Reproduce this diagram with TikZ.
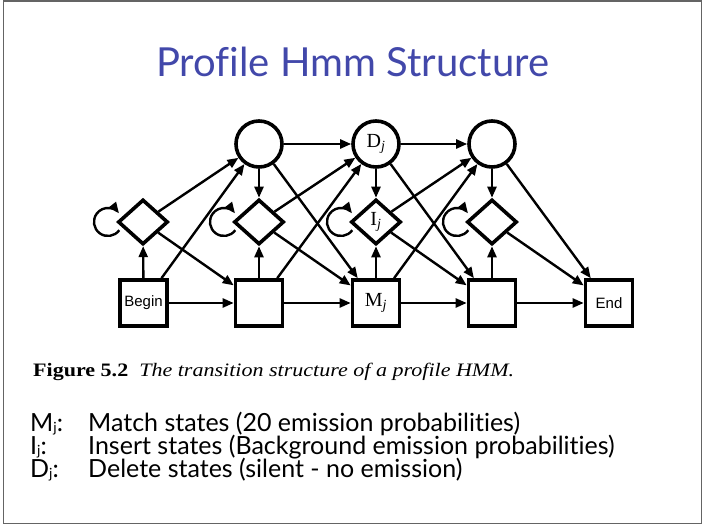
\documentclass[tikz,border=0pt]{standalone}
\usepackage{fontspec}
\setmainfont{Liberation Serif}
\newfontfamily\slidefont[Ligatures=NoCommon]{Lato}
\newfontfamily\labelsans{Liberation Sans}
\usetikzlibrary{shapes.geometric,arrows.meta}
\definecolor{titleblue}{RGB}{66,72,170}
\definecolor{framegray}{RGB}{100,100,100}
% small lowered index letter used in the legend keys
\newcommand\keyidx[1]{\raisebox{-1pt}{\fontsize{14}{14}\selectfont #1}}

\begin{document}
\begin{tikzpicture}[x=1pt,y=-1pt,
  state/.style={draw, line width=3.6pt, inner sep=0pt},
  matchbox/.style={state, rectangle, minimum width=47pt, minimum height=46pt},
  insertdia/.style={state, diamond, minimum width=50pt, minimum height=45pt},
  deletecirc/.style={state, circle, minimum size=46pt},
  arr/.style={line width=2.4pt, -{Triangle[length=11pt,width=9pt]}},
  lbl/.style={font=\fontsize{20}{22}\selectfont},
  endlbl/.style={font=\labelsans\fontsize{15}{17}\selectfont},
  legend/.style={font=\slidefont\fontsize{25}{28}\selectfont, inner sep=0pt},
]
\useasboundingbox (0,0) rectangle (705,526);
\draw[framegray, line width=1.2pt] (3.5,1) rectangle (701.5,523.5);

% title
\node[anchor=base, inner sep=0pt, text=titleblue, font=\slidefont\fontsize{40}{44}\selectfont]
  (title) at (352.5,77) {Profile Hmm Structure};

% match states (and begin/end)
\node[matchbox, endlbl] (B)  at (143.5,303) {Begin};
\node[matchbox]         (M1) at (259,303) {};
\node[matchbox, lbl]    (Mj) at (376,303) {M\textsubscript{\textit{j}}};
\node[matchbox]         (M3) at (492,303) {};
\node[matchbox, endlbl] (E)  at (609,303) {End};

% insert states
\node[insertdia]      (I0) at (143,222) {};
\node[insertdia]      (I1) at (259,222) {};
\node[insertdia, lbl] (Ij) at (376,222) {I\textsubscript{\textit{j}}};
\node[insertdia]      (I3) at (492,222) {};

% delete states
\node[deletecirc]      (D1) at (259,144) {};
\node[deletecirc, lbl] (Dj) at (376,144) {D\textsubscript{\textit{j}}};
\node[deletecirc]      (D3) at (492,144) {};

% transitions
\foreach \a/\b in {B/I0, B/D1, B/M1, I0/D1, I0/M1,
                   D1/Dj, D1/I1, D1/Mj, M1/I1, M1/Dj, M1/Mj, I1/Dj, I1/Mj,
                   Dj/D3, Dj/Ij, Dj/M3, Mj/Ij, Mj/D3, Mj/M3, Ij/D3, Ij/M3,
                   D3/I3, D3/E, M3/I3, M3/E, I3/E}
  \draw[arr] (\a) -- (\b);

% self-loops on the insert states
\foreach \n in {I0, I1, Ij, I3}
  \draw[arr] ([shift={(-23.7,8.2)}]\n.center) arc[start angle=36, end angle=322, radius=14];

% caption
\node[anchor=base west, inner sep=0pt, font=\fontsize{19}{22}\selectfont] (cap) at (33,377)
  {\scalebox{1.16}[1]{\textbf{Figure 5.2}\hspace{0.5em}\textit{The transition structure of a profile HMM.}}};

% legend
\node[legend, anchor=base west] (kM) at (30,432) {M\keyidx{j}:};
\node[legend, anchor=base west] (tM) at (88,432) {Match states (20 emission probabilities)};
\node[legend, anchor=base west] (kI) at (30,455) {I\keyidx{j}:};
\node[legend, anchor=base west] (tI) at (88,455) {Insert states (Background emission probabilities)};
\node[legend, anchor=base west] (kD) at (30,478) {D\keyidx{j}:};
\node[legend, anchor=base west] (tD) at (88,478) {Delete states (silent - no emission)};
\end{tikzpicture}
\end{document}
